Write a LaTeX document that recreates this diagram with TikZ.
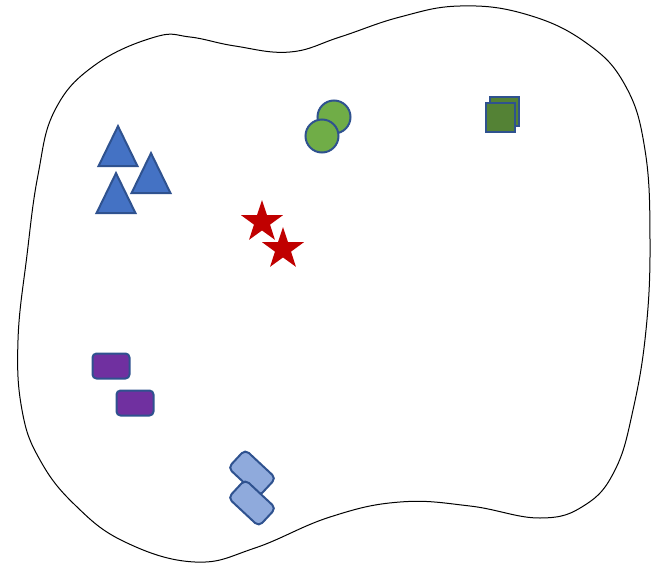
\documentclass[tikz,border=0pt]{standalone}
\usetikzlibrary{shapes.geometric}
\definecolor{edgeblue}{HTML}{2F528F}
\definecolor{triblue}{HTML}{4472C4}
\definecolor{dotgreen}{HTML}{70AD47}
\definecolor{boxgreen}{HTML}{548235}
\definecolor{starred}{HTML}{C00000}
\definecolor{tagpurple}{HTML}{7030A0}
\definecolor{lightblue}{HTML}{8FAADC}
\begin{document}
\begin{tikzpicture}[x=1pt, y=-1pt,
  tri/.style={draw=edgeblue, line width=2pt, fill=triblue, isosceles triangle, shape border rotate=90, isosceles triangle stretches, minimum width=39pt, minimum height=40pt, inner sep=0pt},
  dot/.style={draw=edgeblue, line width=2pt, fill=dotgreen, circle, minimum size=33pt, inner sep=0pt},
  sq/.style={draw=edgeblue, line width=2pt, fill=boxgreen, rectangle, minimum size=29pt, inner sep=0pt},
  redstar/.style={fill=starred, star, star points=5, star point ratio=2.6, minimum size=44pt, inner sep=0pt},
  tag/.style={draw=edgeblue, line width=2pt, fill=tagpurple, rounded corners=4pt, minimum width=37pt, minimum height=25pt, inner sep=0pt},
  chip/.style={draw=edgeblue, line width=2pt, fill=lightblue, rounded corners=5pt, minimum width=42pt, minimum height=25pt, inner sep=0pt, rotate=-43}]
\useasboundingbox (0,0) rectangle (651,565);
% the blob
\draw[line width=1pt] plot[smooth cycle, tension=0.7] coordinates {
  (155,37) (95,65) (55,110) (38,175) (27,255) (18,340) (22,410) (40,460)
  (75,505) (125,542) (195,562) (255,548) (330,517) (400,502) (470,506)
  (540,518) (585,505) (615,470) (633,410) (646,330) (650,240) (645,150)
  (625,85) (585,42) (525,14) (460,6) (400,17) (340,37) (290,52) (235,46)
  (190,37)};
% triangles
\node[tri] (tri1) at (118,154) {};
\node[tri] (tri2) at (151,181) {};
\node[tri] (tri3) at (116,201) {};
% circles
\node[dot] (dot1) at (334,117) {};
\node[dot] (dot2) at (322,136) {};
% squares
\node[sq] (sq1) at (504,111) {};
\node[sq] (sq2) at (500,117) {};
% stars
\node[redstar] (star1) at (262,222) {};
\node[redstar] (star2) at (283,249) {};
% purple boxes
\node[tag] (tag1) at (111,366) {};
\node[tag] (tag2) at (135,403) {};
% tilted boxes
\node[chip] (chip1) at (252,473) {};
\node[chip] (chip2) at (252,503) {};
\end{tikzpicture}
\end{document}
